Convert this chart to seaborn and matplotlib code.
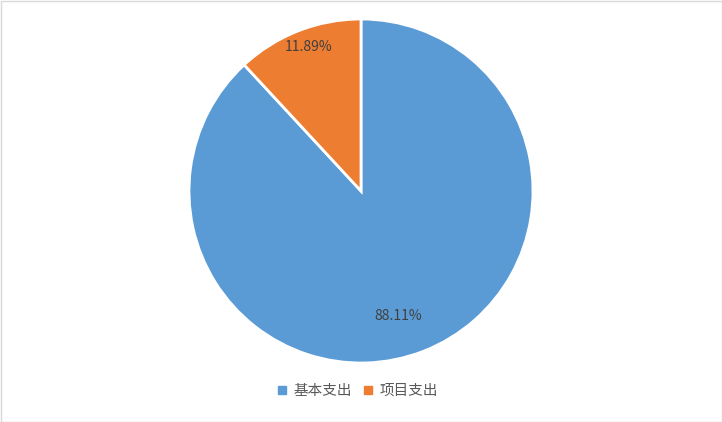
import numpy as np
import seaborn as sns
import matplotlib.pyplot as plt
from matplotlib.patches import Rectangle
from matplotlib.lines import Line2D

# Data
categories = ["基本支出", "项目支出"]
shares = [88.11, 11.89]
colors = ["#5B9BD5", "#ED7D31"]

sns.set_theme(style="white")
plt.rcParams['font.family'] = ['Noto Sans CJK SC', 'DejaVu Sans']

fig = plt.figure(figsize=(7.22, 4.22), dpi=100)
# square axes holding the pie
ax = fig.add_axes([(361 - 172) / 722, (422 - 363) / 422, 344 / 722, 344 / 422])

wedges, texts, autotexts = ax.pie(
    shares, colors=colors, startangle=90, counterclock=False,
    autopct=lambda p: f"{p:.2f}%", pctdistance=0.76, radius=1,
    wedgeprops=dict(edgecolor="white", linewidth=2),
    textprops=dict(color="#404040", fontsize=10),
)
# Excel "best fit" label placement: nudge along angle / radius
label_fit = [(-5.0, 0.76), (-1.5, 0.89)]
for w, t, (dang, dist) in zip(wedges, autotexts, label_fit):
    mid = np.deg2rad((w.theta1 + w.theta2) / 2 + dang)
    t.set_position((dist * np.cos(mid), dist * np.sin(mid)))
ax.set_xlim(-1, 1)
ax.set_ylim(-1, 1)
ax.set_aspect("equal")
ax.axis("off")

handles = [Line2D([0], [0], marker="s", color="none", markerfacecolor=c,
                  markeredgecolor=c, markersize=6) for c in colors]
fig.legend(handles, categories, loc="center",
           bbox_to_anchor=((361 - 4) / 722, (422 - 391) / 422),
           ncol=2, frameon=False, fontsize=10.5, handlelength=0.8,
           handletextpad=0.4, columnspacing=0.7, labelcolor="#595959")

fig.patches.append(Rectangle((0.5 / 722, 0.5 / 422), 1 - 1 / 722, 1 - 1 / 422,
                             transform=fig.transFigure, fill=False,
                             edgecolor="#D9D9D9", linewidth=1))

fig.savefig("out.png", dpi=100)
